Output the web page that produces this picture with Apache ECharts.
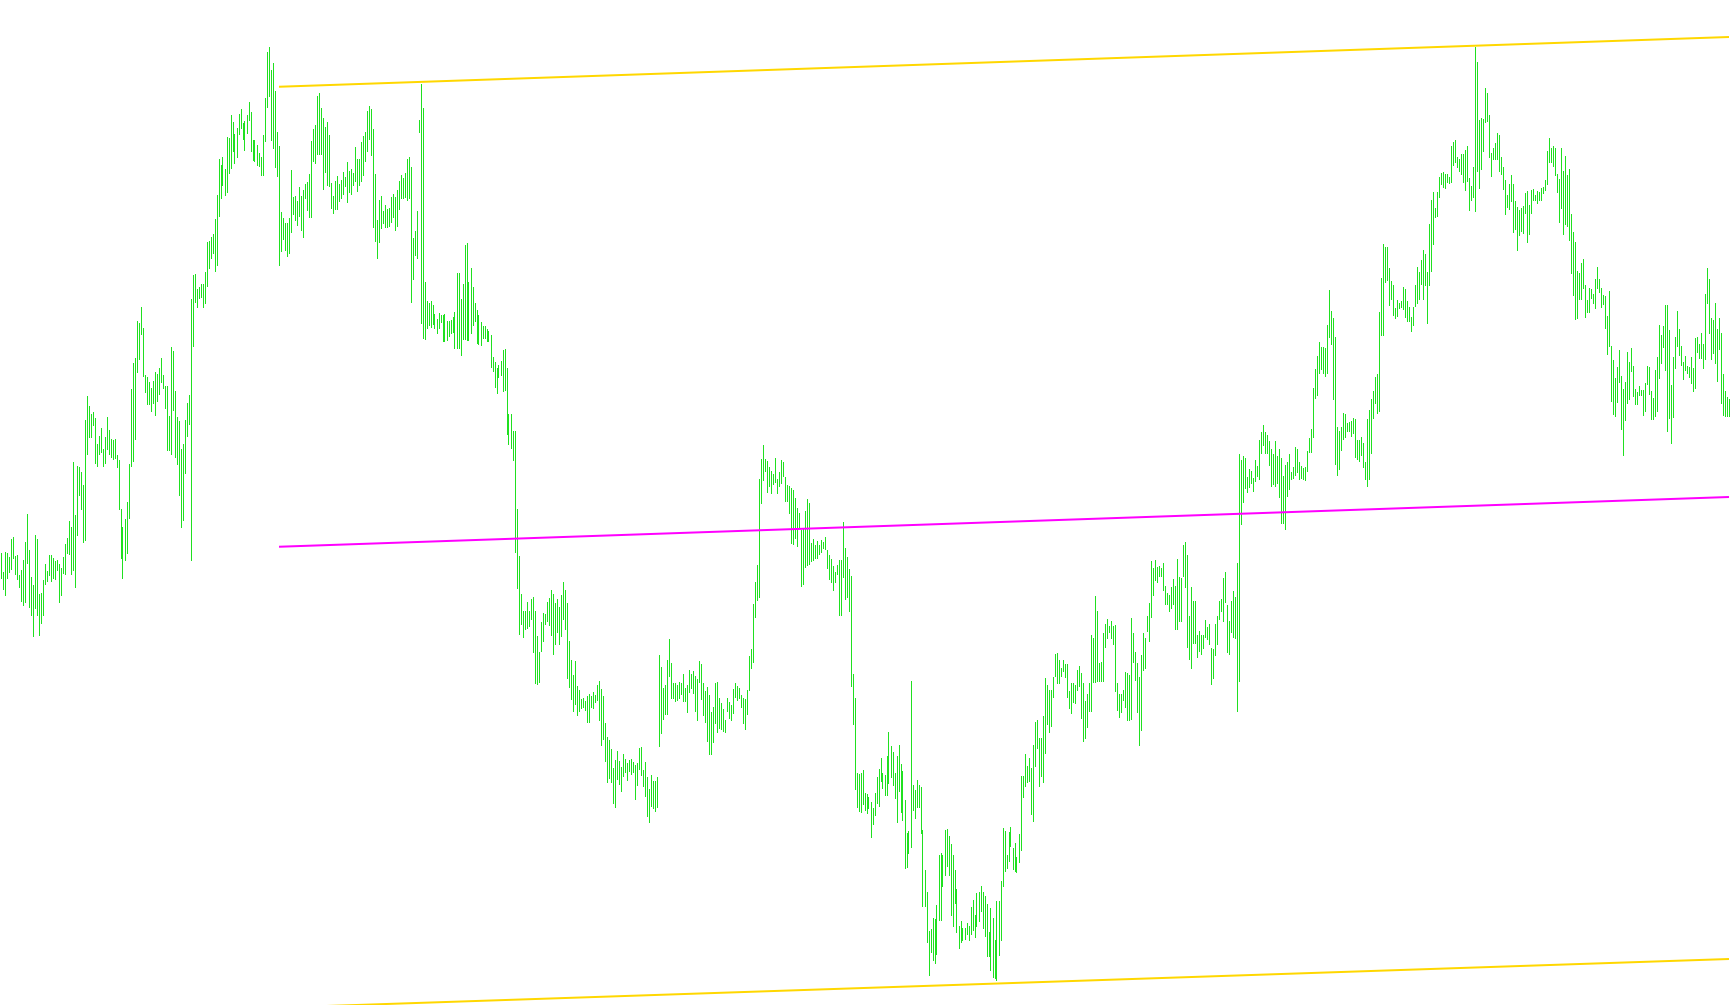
<!DOCTYPE html>
<html>
<head>
<meta charset="utf-8">
<style>
  html, body { margin: 0; padding: 0; background: #ffffff; }
  #chart { width: 1730px; height: 1005px; }
</style>
<script src="https://cdn.jsdelivr.net/npm/echarts@6/dist/echarts.min.js"></script>
</head>
<body>
<div id="chart"></div>
<script>
// Bar highs (arbitrary price units)
const barHigh = [
447,428,448,447,443,461,463,444,445,425,
430,440,458,486,450,423,415,465,461,406,
407,420,436,429,445,445,442,439,440,436,
432,443,456,462,479,473,538,485,534,533,
528,515,580,604,594,586,588,582,556,564,
572,551,563,583,570,561,560,561,545,540,
491,473,481,498,536,611,637,642,679,677,
693,672,625,623,618,612,619,628,626,632,
642,625,614,614,584,653,649,609,583,579,
551,556,580,597,605,701,725,726,711,713,
716,716,728,758,759,763,766,781,805,841,
835,843,831,863,862,885,878,866,872,886,
891,877,879,885,898,888,860,860,855,847,
843,865,902,948,953,930,937,909,868,854,
788,782,777,777,782,830,803,804,799,813,
804,810,816,818,826,859,871,875,904,907,
892,882,873,878,865,817,804,819,824,816,
820,828,823,838,829,831,827,853,841,841,
858,864,868,889,894,891,871,826,780,800,
804,789,795,791,792,803,806,803,810,819,
825,822,827,841,843,833,762,769,789,880,
916,892,718,699,697,699,695,686,681,687,
685,685,686,679,679,680,683,688,727,727,
701,716,755,757,718,732,713,697,690,685,
678,674,674,671,669,665,643,638,632,635,
639,650,651,632,586,586,569,569,491,444,
406,389,389,398,389,401,403,389,364,348,
378,387,386,398,402,410,406,397,401,393,
405,418,410,397,359,340,325,339,314,310,
301,302,299,304,306,304,308,305,315,319,
311,304,277,263,260,251,232,240,249,239,
233,246,241,237,240,241,238,235,237,252,
253,230,238,223,211,225,219,219,223,345,
333,312,315,340,361,337,317,317,315,318,
317,326,312,315,330,326,329,324,321,339,
336,317,309,313,305,288,293,317,318,302,
297,291,280,302,298,295,311,317,314,312,
305,302,301,310,344,351,396,418,435,521,
541,555,541,539,533,529,526,542,521,528,
540,538,523,515,514,512,510,502,492,487,
470,472,489,501,497,457,461,455,459,455,
460,458,463,450,445,441,434,428,435,440,
440,478,452,443,431,424,326,302,227,226,
227,230,207,206,203,198,192,207,223,231,
242,227,225,244,268,254,248,227,244,255,
236,229,200,167,169,319,215,210,220,215,
213,170,130,108,69,71,82,81,95,145,
147,145,170,171,164,156,145,130,111,74,
79,72,72,77,74,93,100,85,107,108,
114,108,104,96,68,92,82,60,99,99,
119,172,169,145,168,173,152,157,143,166,
224,224,246,234,242,232,255,278,280,262,
262,284,322,315,310,310,323,346,347,340,
332,340,336,336,309,317,317,315,330,334,
327,317,299,306,317,365,362,404,389,337,
338,367,376,381,374,379,374,375,317,306,
306,310,328,327,325,382,367,348,337,323,
345,367,362,384,397,439,432,440,433,434,
432,437,414,407,405,413,421,414,441,423,
422,455,458,445,384,413,399,399,365,369,
365,365,380,373,376,352,351,376,384,399,
401,422,428,395,379,399,409,403,437,546,
540,544,542,523,531,529,522,540,534,560,
568,575,568,565,559,551,546,559,544,551,
542,524,535,538,546,528,533,553,551,538,
534,532,533,549,562,571,612,631,644,658,
653,653,652,675,710,689,682,663,573,569,
573,587,586,577,578,579,582,581,560,560,
563,557,538,581,590,601,609,623,626,688,
722,756,753,753,732,719,715,692,700,697,
699,713,711,699,693,683,693,715,733,728,
740,750,746,728,776,800,808,792,808,823,
827,828,826,826,823,854,858,860,843,841,
846,846,850,854,822,814,833,953,938,880,
882,881,912,907,885,847,852,857,867,865,
843,833,820,805,816,825,816,799,793,790,
792,794,807,809,795,810,811,805,809,808,
812,813,820,849,862,852,854,852,826,821,
852,829,844,825,831,786,768,758,729,727,
737,741,715,700,712,711,706,721,733,721,
712,705,704,684,709,654,640,622,633,650,
624,611,618,648,638,652,634,611,608,614,
610,610,617,634,633,609,602,630,643,675,
665,674,695,695,670,615,643,663,689,671,
654,638,644,634,633,643,632,662,663,656,
667,656,706,732,721,682,680,697,671,682,
667,626,609,603,601
];

// Bar lows
const barLow = [
421,410,404,421,427,430,441,425,420,412,
398,394,397,436,392,384,363,391,384,364,
376,384,415,418,424,418,421,420,429,397,
404,426,425,446,445,425,429,412,464,504,
490,457,459,545,562,562,574,536,533,545,
547,533,536,550,545,542,540,541,532,490,
441,421,439,446,481,533,538,560,627,640,
665,623,607,595,595,588,596,584,598,605,
617,611,591,549,549,545,589,542,535,504,
472,479,526,563,575,439,653,697,692,701,
702,692,696,713,731,741,746,728,734,783,
801,814,804,807,826,831,848,836,842,865,
871,860,849,866,879,848,839,838,834,833,
824,824,858,892,903,859,851,832,823,734,
748,760,749,743,746,767,785,779,774,783,
769,762,801,789,782,782,838,836,845,845,
845,810,827,814,813,791,786,790,790,798,
801,805,813,797,807,805,814,818,808,814,
818,824,838,848,860,844,772,758,741,757,
771,776,772,772,773,777,782,769,773,790,
801,801,802,799,801,697,720,744,741,867,
676,661,660,671,674,672,675,671,666,671,
677,658,658,659,663,666,667,651,651,651,
644,660,660,659,659,666,674,678,656,655,
654,661,661,658,658,632,628,612,606,622,
624,608,609,565,555,551,539,447,411,365,
375,362,370,371,373,380,347,316,315,317,
348,358,375,378,374,364,345,355,367,355,
363,380,370,321,312,300,288,295,284,288,
291,292,289,277,277,292,291,297,299,279,
254,260,238,217,221,217,196,192,220,215,
208,223,227,219,228,225,227,200,214,230,
224,213,203,183,177,193,191,188,192,253,
266,280,285,285,323,301,301,298,299,301,
305,298,298,287,307,311,306,288,279,317,
300,284,277,258,245,245,257,276,267,271,
270,268,267,288,281,279,286,302,299,301,
292,276,270,285,309,331,337,382,399,402,
496,519,528,507,513,506,515,517,506,513,
516,523,498,498,486,456,455,461,453,471,
413,415,432,434,435,438,439,441,441,445,
447,451,450,431,420,417,409,417,425,384,
384,422,400,402,388,313,275,210,192,188,
187,195,189,186,191,162,175,184,196,193,
218,211,204,204,216,222,214,201,177,208,
187,179,131,132,146,152,189,181,192,192,
166,93,93,57,24,47,39,36,45,79,
79,113,124,133,124,84,73,96,67,51,
57,59,60,65,59,65,69,62,73,78,
88,71,63,43,43,29,22,21,19,44,
59,113,128,131,138,153,130,128,127,137,
149,202,213,217,218,185,178,233,251,213,
223,217,246,275,267,273,302,323,316,316,
323,328,322,302,291,286,297,296,309,313,
281,258,261,272,288,288,317,317,318,318,
318,318,352,361,367,361,355,308,289,282,
287,299,292,279,279,280,337,319,287,254,
269,329,331,368,358,382,404,419,417,423,
423,409,395,395,388,391,395,370,370,378,
378,423,412,352,340,331,356,356,342,348,
345,351,362,360,355,315,321,344,355,380,
388,378,397,347,345,367,362,361,288,318,
475,497,511,507,512,516,508,518,523,520,
546,554,546,546,534,513,515,513,516,502,
476,476,470,503,510,520,521,524,527,520,
521,520,519,528,547,547,562,601,604,626,
630,626,623,626,662,655,600,535,524,530,
549,560,562,568,568,563,566,542,540,538,
544,532,520,513,520,546,581,596,586,588,
664,664,717,719,694,700,684,681,683,691,
692,690,682,678,678,668,674,693,696,700,
715,700,714,676,714,728,755,782,783,802,
815,812,811,817,816,817,834,837,832,828,
825,817,809,818,789,799,802,788,828,811,
830,848,877,878,842,823,840,840,840,828,
825,810,785,792,790,798,767,770,749,764,
768,766,786,757,765,786,799,799,796,799,
799,806,809,815,837,837,833,824,807,777,
791,765,775,773,759,726,704,680,681,700,
700,711,682,687,687,701,696,691,711,707,
692,695,671,645,653,598,585,583,597,617,
570,544,579,596,600,628,603,595,595,604,
604,584,588,615,605,580,580,583,588,621,
636,652,629,568,581,556,582,631,653,644,
634,620,629,626,622,616,608,611,647,641,
641,631,640,696,666,640,646,636,618,650,
596,584,583,583,583
];

// Regression channel: bar index where it starts / ends and values at both ends
const channelBars = [139, 864];
const channelUpper = [913.2, 963.1];
const channelMiddle = [453.3, 503.0];
const channelLower = [-7.6, 41.1];

const barLabels = barHigh.map((_, i) => String(i + 1));
const barData = barHigh.map((h, i) => [i, h, barLow[i]]);

const GREEN = 'rgb(32,224,32)';
const GOLD = '#FFD700';
const MAGENTA = '#FF00FF';

function lineData(vals) {
  return [[channelBars[0], vals[0]], [channelBars[1], vals[1]]];
}

const chart = echarts.init(document.getElementById('chart'), null, { renderer: 'canvas' });

chart.setOption({
  animation: false,
  backgroundColor: '#ffffff',
  grid: { left: 0, right: 0, top: 0, bottom: 0, containLabel: false },
  xAxis: {
    type: 'category',
    data: barLabels,
    boundaryGap: true,
    show: false
  },
  yAxis: {
    type: 'value',
    min: -5,
    max: 1000,
    show: false,
    splitLine: { show: false }
  },
  series: [
    {
      type: 'custom',
      name: 'bars',
      data: barData,
      encode: { x: 0, y: [1, 2] },
      z: 2,
      renderItem: function (params, api) {
        const i = api.value(0);
        const top = api.coord([i, api.value(1)]);
        const bot = api.coord([i, api.value(2)]);
        const x = Math.floor(top[0]);
        const y1 = Math.round(top[1]);
        const y2 = Math.round(bot[1]);
        return {
          type: 'rect',
          shape: { x: x, y: y1, width: 1, height: Math.max(1, y2 - y1) },
          style: { fill: GREEN }
        };
      }
    },
    {
      type: 'line', name: 'upper', data: lineData(channelUpper),
      symbol: 'none', z: 5, clip: true,
      lineStyle: { color: GOLD, width: 2 }
    },
    {
      type: 'line', name: 'middle', data: lineData(channelMiddle),
      symbol: 'none', z: 5, clip: true,
      lineStyle: { color: MAGENTA, width: 2 }
    },
    {
      type: 'line', name: 'lower', data: lineData(channelLower),
      symbol: 'none', z: 5, clip: true,
      lineStyle: { color: GOLD, width: 2 }
    }
  ]
});
</script>
</body>
</html>
